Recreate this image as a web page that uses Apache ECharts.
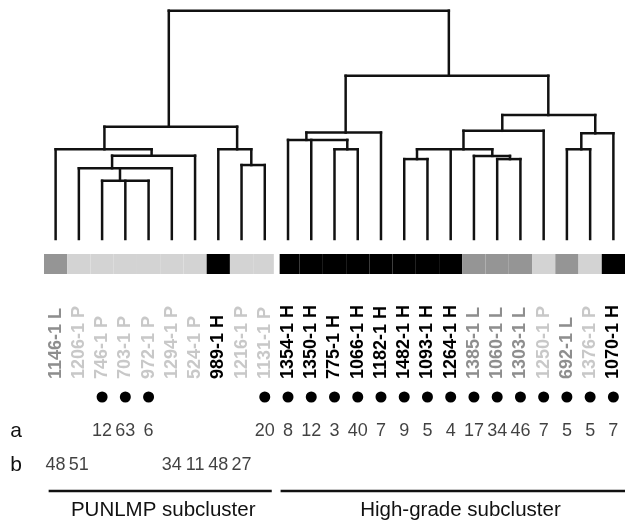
<!DOCTYPE html>
<html>
<head>
    <meta charset="utf-8">
    <title>Dendrogram</title>
    <script src="https://cdn.jsdelivr.net/npm/echarts@6/dist/echarts.min.js"></script>
</head>
<body style="margin:0">
    <div id="main" style="width: 625px;height:522px;"></div>
    <script type="text/javascript">
        // leaves, left to right
        var leafNames = ['1146-1 L', '1206-1 P', '746-1 P', '703-1 P', '972-1 P', '1294-1 P', '524-1 P', '989-1 H',
            '1216-1 P', '1131-1 P', '1354-1 H', '1350-1 H', '775-1 H', '1066-1 H', '1182-1 H', '1482-1 H',
            '1093-1 H', '1264-1 H', '1385-1 L', '1060-1 L', '1303-1 L', '1250-1 P', '692-1 L', '1376-1 P', '1070-1 H'];
        var leafGroup = ['L', 'P', 'P', 'P', 'P', 'P', 'P', 'H', 'P', 'P', 'H', 'H', 'H', 'H', 'H', 'H',
            'H', 'H', 'L', 'L', 'L', 'P', 'L', 'P', 'H'];
        var dotted = [0, 0, 1, 1, 1, 0, 0, 0, 0, 1, 1, 1, 1, 1, 1, 1, 1, 1, 1, 1, 1, 1, 1, 1, 1];
        var rowA = [null, null, 12, 63, 6, null, null, null, null, 20, 8, 12, 3, 40, 7, 9, 5, 4, 17, 34, 46, 7, 5, 5, 7];
        var rowB = [48, 51, null, null, null, 34, 11, 48, 27, null, null, null, null, null, null, null,
            null, null, null, null, null, null, null, null, null];
        var rowNames = ['dot', 'a', 'b'];

        // merges: children (leaf index, or 25 + merge index), position in leaf units, height
        var mergeKids = [[2, 3, 4], [1, 25, 5], [26, 6], [0, 27], [8, 9], [7, 29], [28, 30],
            [12, 13], [10, 11, 32], [33, 14], [15, 16], [19, 20], [18, 36], [35, 17, 37], [38, 21],
            [22, 23], [40, 24], [39, 41], [34, 42], [31, 43]];
        var mergeX = [2.77, 2.43, 4.13, 2.10, 8.42, 7.81, 4.87,
            12.55, 10.79, 12.48, 15.55, 19.55, 18.79, 17.55, 19.22,
            22.62, 23.22, 21.20, 16.92, 10.9];
        var mergeHeight = [0.255, 0.310, 0.365, 0.393, 0.324, 0.393, 0.492,
            0.393, 0.434, 0.466, 0.350, 0.350, 0.364, 0.393, 0.474,
            0.393, 0.463, 0.543, 0.715, 1.0];

        var subclusterNames = ['PUNLMP subcluster', 'High-grade subcluster'];
        var subclusterFrom = [-0.3, 9.68];
        var subclusterTo = [9.3, 24.9];

        var barColors = { H: '#000000', L: '#959595', P: '#d3d3d3' };
        var labelColors = { H: '#000000', L: '#8e8e8e', P: '#c8c8c8' };
        var font = 'Liberation Sans, Arial, sans-serif';
        var N = leafNames.length;

        function nodePos(k) {
            return k < N ? [k, 0] : [mergeX[k - N], mergeHeight[k - N]];
        }
        var lineStyle = { stroke: '#111', lineWidth: 2.5, lineCap: 'square' };

        function renderTree(params, api) {
            var m = params.dataIndex;
            var kids = mergeKids[m];
            var h = mergeHeight[m];
            var xs = kids.map(function (k) { return nodePos(k)[0]; });
            var a = api.coord([Math.min.apply(null, xs), h]);
            var b = api.coord([Math.max.apply(null, xs), h]);
            var children = [{ type: 'line', shape: { x1: a[0], y1: a[1], x2: b[0], y2: b[1] }, style: lineStyle }];
            kids.forEach(function (k) {
                var p = nodePos(k);
                var top = api.coord([p[0], h]);
                var bot = api.coord(p);
                children.push({ type: 'line', shape: { x1: top[0], y1: top[1], x2: bot[0], y2: bot[1] }, style: lineStyle });
            });
            return { type: 'group', children: children };
        }

        function renderCell(params, api) {
            var i = params.dataIndex;
            var lo = i - 0.5, hi = i + 0.5;
            if (i === 9) hi -= 0.11;
            if (i === 10) lo += 0.14;
            var p0 = api.coord([lo, 1]);
            var p1 = api.coord([hi, 0]);
            return {
                type: 'rect',
                shape: { x: p0[0], y: p0[1], width: p1[0] - p0[0], height: p1[1] - p0[1] },
                style: { fill: barColors[leafGroup[i]] }
            };
        }

        function renderBracket(params, api) {
            var i = params.dataIndex;
            var cs = params.coordSys;
            var x0 = api.coord([subclusterFrom[i], 0])[0];
            var x1 = api.coord([subclusterTo[i], 0])[0];
            return {
                type: 'group',
                children: [
                    { type: 'line', shape: { x1: x0, y1: cs.y + 7, x2: x1, y2: cs.y + 7 }, style: { stroke: '#111', lineWidth: 2.5 } },
                    {
                        type: 'text', x: (x0 + x1) / 2 + 3, y: cs.y + 26,
                        style: { text: subclusterNames[i], fill: '#111', font: '20.5px ' + font, textAlign: 'center', textVerticalAlign: 'middle' }
                    }
                ]
            };
        }

        var dotData = [], aData = [], bData = [];
        for (var i = 0; i < N; i++) {
            if (dotted[i]) dotData.push([i, 0]);
            if (rowA[i] != null) aData.push([i, 1, rowA[i]]);
            if (rowB[i] != null) bData.push([i, 2, rowB[i]]);
        }
        var numLabel = {
            show: true, position: 'inside', fontSize: 18, fontFamily: font, color: '#111',
            formatter: function (p) { return p.value[2]; }
        };

        var valueX = { type: 'value', min: -0.5, max: 24.5, show: false };
        var unitY = { type: 'value', min: 0, max: 1, show: false };

        var myChart = echarts.init(document.getElementById('main'));
        var option = {
            animation: false,
            backgroundColor: '#ffffff',
            grid: [
                { left: 44, width: 587, top: 10.7, height: 228.3 },
                { left: 44, width: 587, top: 254, height: 20 },
                { left: 44, width: 587, top: 380, height: 102 },
                { left: 44, width: 587, top: 484, height: 38 }
            ],
            xAxis: [
                Object.assign({ gridIndex: 0 }, valueX),
                Object.assign({ gridIndex: 1 }, valueX),
                {
                    gridIndex: 2, type: 'category', position: 'top', data: leafNames,
                    axisLine: { show: false }, axisTick: { show: false },
                    axisLabel: {
                        interval: 0, rotate: -90, margin: 1, fontSize: 18, fontWeight: 'bold', fontFamily: font,
                        color: function (value, index) { return labelColors[leafGroup[index]]; }
                    }
                },
                Object.assign({ gridIndex: 3 }, valueX)
            ],
            yAxis: [
                Object.assign({ gridIndex: 0 }, unitY),
                Object.assign({ gridIndex: 1 }, unitY),
                {
                    gridIndex: 2, type: 'category', inverse: true, data: rowNames,
                    axisLine: { show: false }, axisTick: { show: false }, splitLine: { show: false },
                    axisLabel: {
                        margin: 22, fontSize: 21, fontFamily: font, color: '#111',
                        formatter: function (v) { return v === 'dot' ? '' : v; }
                    }
                },
                Object.assign({ gridIndex: 3 }, unitY)
            ],
            series: [
                {
                    type: 'custom', xAxisIndex: 0, yAxisIndex: 0, renderItem: renderTree,
                    data: mergeX.map(function (x, k) { return [x, mergeHeight[k]]; })
                },
                {
                    type: 'custom', xAxisIndex: 1, yAxisIndex: 1, renderItem: renderCell,
                    data: leafNames.map(function (n, k) { return [k, 0.5]; })
                },
                {
                    type: 'scatter', xAxisIndex: 2, yAxisIndex: 2, symbolSize: 11,
                    itemStyle: { color: '#000', opacity: 1 }, data: dotData
                },
                {
                    type: 'scatter', xAxisIndex: 2, yAxisIndex: 2, symbolSize: 0,
                    label: numLabel, data: aData
                },
                {
                    type: 'scatter', xAxisIndex: 2, yAxisIndex: 2, symbolSize: 0,
                    label: numLabel, data: bData
                },
                {
                    type: 'custom', xAxisIndex: 3, yAxisIndex: 3, renderItem: renderBracket,
                    data: subclusterNames.map(function (n, k) { return [subclusterFrom[k], 0.5]; })
                }
            ]
        };
        myChart.setOption(option);
    </script>
</body>
</html>
